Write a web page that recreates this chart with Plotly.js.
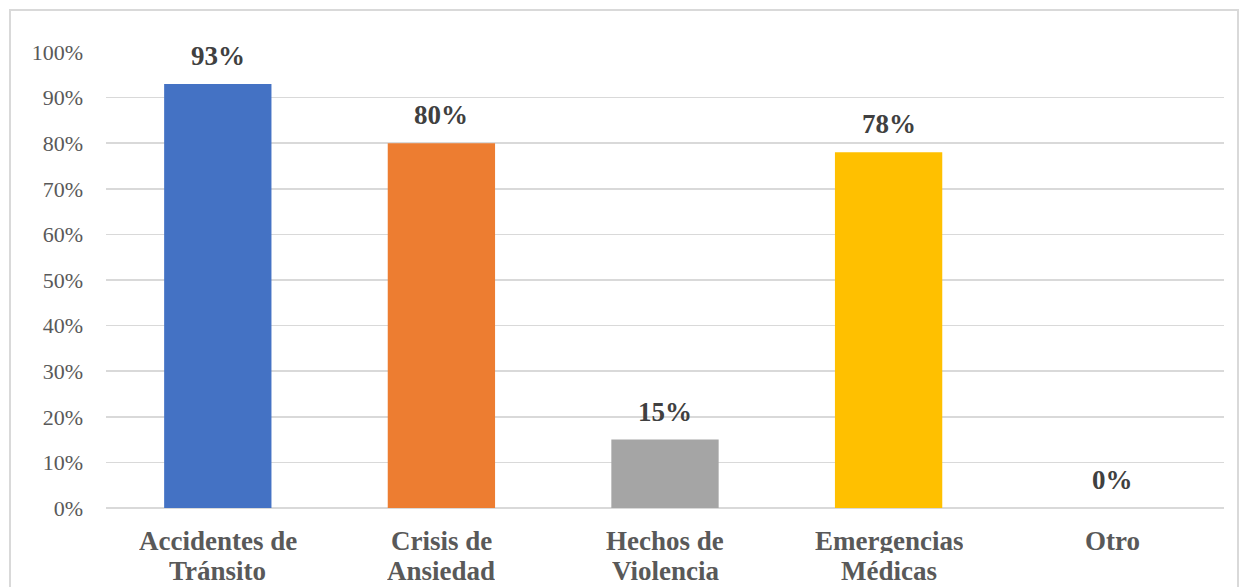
<!DOCTYPE html>
<html>
<head>
<meta charset="utf-8">
<script src="https://cdn.plot.ly/plotly-3.0.1.min.js"></script>
<style>
html,body{margin:0;padding:0;background:#fff;}
#chart{width:1246px;height:587px;}
#frame{position:absolute;left:9px;top:9px;width:1226px;height:600px;border:2px solid #d9d9d9;pointer-events:none;}
</style>
</head>
<body>
<div id="chart"></div>
<div id="frame"></div>
<script>
var categories = ["Accidentes de Tránsito", "Crisis de Ansiedad", "Hechos de Violencia", "Emergencias Médicas", "Otro"];
var catLine1 = ["Accidentes de", "Crisis de", "Hechos de", "Emergencias", "Otro"];
var catLine2 = ["Tránsito", "Ansiedad", "Violencia", "Médicas", ""];
var values = [0.93, 0.80, 0.15, 0.78, 0.00];
var barColors = ["#4472C4", "#ED7D31", "#A5A5A5", "#FFC000", "#5B9BD5"];
var labels = ["93%", "80%", "15%", "78%", "0%"];

var trace = {
  type: "bar",
  x: categories,
  y: values,
  marker: {color: barColors},
  width: 0.48,
  hoverinfo: "none"
};

var catFont = {family: "Liberation Serif", size: 27, color: "#595959", weight: "bold"};
var annotations = [];
categories.forEach(function(c, i){
  annotations.push({
    x: c, y: values[i], xref: "x", yref: "y",
    text: labels[i], showarrow: false,
    yanchor: "bottom", yshift: 11,
    font: {family: "Liberation Serif", size: 27, color: "#404040", weight: "bold"}
  });
  annotations.push({
    x: c, y: 0, xref: "x", yref: "y",
    text: catLine1[i], showarrow: false, height: 25, valign: "middle",
    yanchor: "middle", yshift: -32, font: catFont
  });
  if (catLine2[i]) annotations.push({
    x: c, y: 0, xref: "x", yref: "y",
    text: catLine2[i], showarrow: false, height: 25, valign: "middle",
    yanchor: "middle", yshift: -62, font: catFont
  });
});

var layout = {
  width: 1246, height: 587,
  margin: {l: 106, r: 22, t: 52, b: 79},
  paper_bgcolor: "#fff", plot_bgcolor: "#fff",
  showlegend: false,
  font: {family: "Liberation Serif"},
  xaxis: {
    showgrid: false, showline: false, zeroline: false,
    ticks: "", showticklabels: false
  },
  yaxis: {
    range: [0, 1], dtick: 0.1, tick0: 0,
    tickformat: ".0%",
    showgrid: true, gridcolor: "#d9d9d9", gridwidth: 1.5,
    zeroline: true, zerolinecolor: "#d9d9d9", zerolinewidth: 1.5,
    showline: false, ticks: "",
    ticklabelstandoff: 22,
    tickfont: {family: "Liberation Serif", size: 22, color: "#595959"}
  },
  annotations: annotations
};

Plotly.newPlot("chart", [trace], layout, {staticPlot: true, displayModeBar: false});
</script>
</body>
</html>
